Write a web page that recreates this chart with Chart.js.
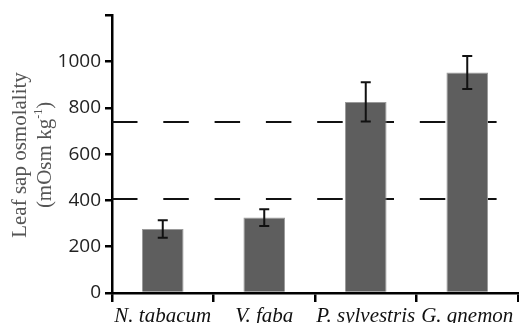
<!DOCTYPE html>
<html>
<head>
<meta charset="utf-8">
<script src="https://cdn.jsdelivr.net/npm/chart.js@4"></script>
<style>
  html, body { margin: 0; padding: 0; background: #fff; }
  #c { display: block; }
</style>
</head>
<body>
<canvas id="c" width="519" height="323"></canvas>
<script>
// ── Data ──────────────────────────────────────────────────────────────
const SPECIES = ['N. tabacum', 'V. faba', 'P. sylvestris', 'G. gnemon'];
const OSMOLALITY = [277, 326, 826, 953];
const ERRORS = [38, 36, 85, 71];
const REF_LINES = [408, 740];
const Y_TICKS = [0, 200, 400, 600, 800, 1000, 1200];
const Y_TICK_LABELS = ['0', '200', '400', '600', '800', '1000', ''];

const SERIF = '"Liberation Serif", "Times New Roman", serif';
const SANS = '"Open Sans", "Liberation Sans", sans-serif';

// Dashed reference lines, drawn behind the bars
const refLinesPlugin = {
  id: 'refLines',
  beforeDatasetsDraw(chart) {
    const { ctx, chartArea, scales } = chart;
    ctx.save();
    ctx.strokeStyle = '#111';
    ctx.lineWidth = 2;
    ctx.setLineDash([25.5, 25.8]);
    REF_LINES.forEach(v => {
      const y = Math.round(scales.y.getPixelForValue(v));
      ctx.beginPath();
      ctx.moveTo(chartArea.left, y);
      ctx.lineTo(chartArea.right, y);
      ctx.stroke();
    });
    ctx.restore();
  },
};

// Error bars
const errorBarsPlugin = {
  id: 'errorBars',
  afterDatasetsDraw(chart) {
    const { ctx, scales } = chart;
    const meta = chart.getDatasetMeta(0);
    ctx.save();
    ctx.strokeStyle = '#111';
    ctx.lineWidth = 2;
    meta.data.forEach((bar, i) => {
      const x = bar.x;
      const yTop = scales.y.getPixelForValue(OSMOLALITY[i] + ERRORS[i]);
      const yBot = scales.y.getPixelForValue(OSMOLALITY[i] - ERRORS[i]);
      ctx.beginPath();
      ctx.moveTo(x, yTop); ctx.lineTo(x, yBot);
      ctx.moveTo(x - 5, yTop); ctx.lineTo(x + 5, yTop);
      ctx.moveTo(x - 5, yBot); ctx.lineTo(x + 5, yBot);
      ctx.stroke();
    });
    ctx.restore();
  },
};

// Y axis title, two lines with a superscript
const yTitlePlugin = {
  id: 'yTitle',
  afterDraw(chart) {
    const { ctx } = chart;
    const cy = 155;
    ctx.save();
    ctx.fillStyle = '#555';
    ctx.textBaseline = 'middle';
    ctx.translate(20, cy);
    ctx.rotate(-Math.PI / 2);
    ctx.font = '21px ' + SERIF;
    ctx.textAlign = 'center';
    ctx.fillText('Leaf sap osmolality', 0, 0);

    // second line: (mOsm kg-1)
    const a = '(mOsm kg', sup = '-1', b = ')';
    ctx.font = '21px ' + SERIF;
    const wa = ctx.measureText(a).width;
    const wb = ctx.measureText(b).width;
    ctx.font = '12px ' + SERIF;
    const ws = ctx.measureText(sup).width;
    const total = wa + ws + wb;
    let x = -total / 2;
    ctx.textAlign = 'left';
    ctx.font = '21px ' + SERIF;
    ctx.fillText(a, x, 25);
    x += wa;
    ctx.font = '12px ' + SERIF;
    ctx.fillText(sup, x, 19);
    x += ws;
    ctx.font = '21px ' + SERIF;
    ctx.fillText(b, x, 25);
    ctx.restore();
  },
};

new Chart(document.getElementById('c'), {
  type: 'bar',
  plugins: [refLinesPlugin, errorBarsPlugin, yTitlePlugin],
  data: {
    labels: SPECIES,
    datasets: [{
      data: OSMOLALITY,
      backgroundColor: '#5e5e5e',
      borderColor: '#9a9a9a',
      borderWidth: 1,
      barPercentage: 0.41,
      categoryPercentage: 1,
    }],
  },
  options: {
    responsive: false,
    animation: false,
    layout: { padding: { top: 15, right: 1, left: 0, bottom: 0 } },
    plugins: {
      legend: { display: false },
      tooltip: { enabled: false },
    },
    scales: {
      x: {
        offset: true,
        afterFit: s => { s.height = 30; },
        border: { color: '#000', width: 2.5 },
        grid: {
          offset: true,
          drawOnChartArea: false,
          color: '#000',
          lineWidth: 2.5,
          tickLength: 9,
        },
        ticks: {
          autoSkip: false,
          maxRotation: 0,
          padding: 2,
          color: '#111',
          font: { family: SERIF, size: 21, style: 'italic' },
        },
      },
      y: {
        min: 0,
        max: 1200,
        afterFit: s => { s.width = 112; },
        afterBuildTicks: s => { s.ticks = Y_TICKS.map(v => ({ value: v })); },
        border: { color: '#000', width: 2.5 },
        grid: {
          drawOnChartArea: false,
          color: '#000',
          lineWidth: 2.5,
          tickLength: 7,
        },
        ticks: {
          padding: 4,
          color: '#222',
          font: { family: SANS, size: 19 },
          callback: (v, i) => Y_TICK_LABELS[i],
        },
      },
    },
  },
});
</script>
</body>
</html>
